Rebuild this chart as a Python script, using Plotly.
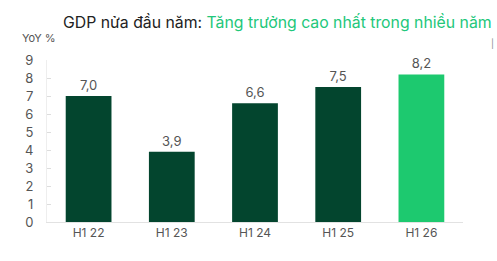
import plotly.graph_objects as go

categories = ["H1 22", "H1 23", "H1 24", "H1 25", "H1 26"]
values = [7.0, 3.9, 6.6, 7.5, 8.2]
value_labels = ["7,0", "3,9", "6,6", "7,5", "8,2"]
bar_colors = ["#03452E", "#03452E", "#03452E", "#03452E", "#1DC96F"]
y_ticks = list(range(0, 10))

W, H = 497, 261
L, R, T, B = 47, 34, 60, 39

def px(x):
    return (x - L) / (W - L - R)

def py(y):
    return 1 - (y - T) / (H - T - B)

fig = go.Figure()
fig.add_trace(go.Bar(
    x=categories, y=values, text=value_labels, textposition="outside",
    textfont=dict(size=13, color="#555"), marker=dict(color=bar_colors, line=dict(width=0)),
    width=0.55, cliponaxis=False,
))

fig.update_layout(
    width=W, height=H, margin=dict(l=L, r=R, t=T, b=B),
    paper_bgcolor="white", plot_bgcolor="white", showlegend=False,
    font=dict(family="Inter, Lato, sans-serif", color="#555"),
    xaxis=dict(showgrid=False, showline=True, linecolor="#e2e2e2", linewidth=1,
               tickfont=dict(size=12, color="#555"), ticks="", range=[-0.5, 4.5]),
    yaxis=dict(range=[0, 9], tickvals=y_ticks, showgrid=False, showline=True,
               linecolor="#eeeeee", ticks="inside", ticklen=4, tickcolor="#dddddd",
               tickfont=dict(size=13, color="#555"), zeroline=False, ticklabelstandoff=10),
    annotations=[
        dict(text="GDP nửa đầu năm: <span style='color:#22C77A'>Tăng trưởng cao nhất trong nhiều năm</span>",
             x=px(277), y=py(22), xref="paper", yref="paper", showarrow=False,
             font=dict(size=15.8, color="#222"), xanchor="center", yanchor="middle"),
        dict(text="YoY %", x=px(20), y=py(38), xref="paper", yref="paper", showarrow=False,
             font=dict(size=11, color="#555"), xanchor="left", yanchor="middle"),
        dict(text="|", x=px(492), y=py(43), xref="paper", yref="paper", showarrow=False,
             font=dict(size=9, color="#888"), xanchor="center", yanchor="middle"),
    ],
)
fig.write_html("out.html")
